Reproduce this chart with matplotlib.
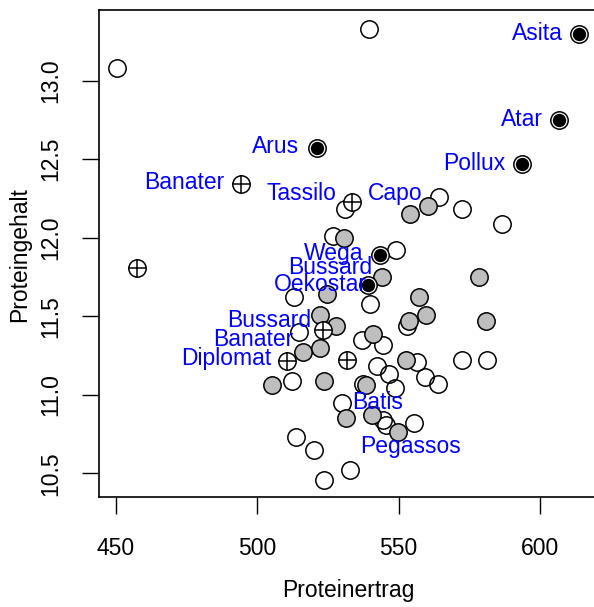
import matplotlib
matplotlib.use("Agg")
import matplotlib.pyplot as plt

plt.rcParams['font.family'] = ['Liberation Sans', 'DejaVu Sans']

# open circles
open_x = [450.5, 539.5, 531.0, 564.3, 572.3, 586.6, 526.9, 549.0, 539.8, 513.0,
          514.8, 536.9, 544.6, 552.8, 556.6, 572.3, 581.1, 542.2, 546.7, 559.3,
          563.9, 512.2, 537.5, 548.7, 530.1, 544.6, 545.5, 555.3, 513.8, 519.9,
          532.8, 523.6]
open_y = [13.08, 13.33, 12.18, 12.26, 12.18, 12.09, 12.01, 11.92, 11.58, 11.62,
          11.40, 11.35, 11.32, 11.44, 11.21, 11.22, 11.22, 11.18, 11.13, 11.11,
          11.07, 11.09, 11.07, 11.04, 10.95, 10.84, 10.81, 10.82, 10.73, 10.65,
          10.52, 10.46]

# grey filled circles
grey_x = [554.0, 560.5, 530.6, 544.0, 578.4, 524.5, 557.3, 559.7, 580.9, 522.2,
          527.8, 553.5, 540.8, 516.0, 522.1, 552.7, 505.3, 523.6, 538.5, 531.5,
          540.7, 549.7]
grey_y = [12.15, 12.20, 12.00, 11.75, 11.75, 11.64, 11.62, 11.51, 11.47, 11.51,
          11.44, 11.47, 11.39, 11.27, 11.30, 11.22, 11.06, 11.09, 11.06, 10.85,
          10.87, 10.76]

# black filled (Asita, Atar, Pollux, Arus, Wega, Oekostar)
black_x = [613.9, 606.8, 593.6, 521.0, 543.4, 539.2]
black_y = [13.30, 12.75, 12.47, 12.57, 11.89, 11.70]

# crossed circles
cross_x = [494.1, 533.4, 457.3, 523.3, 510.6, 531.6]
cross_y = [12.34, 12.23, 11.81, 11.415, 11.215, 11.22]

# labels: name, x, y, alignment
lab_names = ["Asita", "Atar", "Pollux", "Arus", "Banater", "Tassilo", "Capo",
             "Wega", "Bussard", "Oekostar", "Bussard", "Banater", "Diplomat",
             "Batis", "Pegassos"]
lab_x = [608.0, 600.9, 587.8, 514.8, 488.2, 527.8, 539.2,
         537.4, 540.8, 538.6, 519.2, 512.7, 505.1, 533.7, 536.3]
lab_y = [13.30, 12.75, 12.47, 12.58, 12.35, 12.28, 12.28,
         11.90, 11.81, 11.70, 11.47, 11.35, 11.23, 10.95, 10.67]
lab_ha = ["right", "right", "right", "right", "right", "right", "left",
          "right", "right", "right", "right", "right", "right", "left", "left"]

fig = plt.figure(figsize=(5.94, 6.07), dpi=100)
ax = fig.add_axes([99.3/594, 110/607, (594-99.3)/594, 487/607])

ms = 12.5
ax.plot(open_x, open_y, 'o', ms=ms, mfc='none', mec='black', mew=1.1, zorder=3)
ax.plot(grey_x, grey_y, 'o', ms=ms, mfc='#bebebe', mec='black', mew=1.1, zorder=3)
ax.plot(black_x, black_y, 'o', ms=ms, mfc='white', mec='black', mew=1.1, zorder=3)
ax.plot(black_x, black_y, 'o', ms=9.6, mfc='black', mec='black', mew=0, zorder=4)
ax.plot(cross_x, cross_y, 'o', ms=ms, mfc='white', mec='black', mew=1.1, zorder=3)
ax.plot(cross_x, cross_y, '+', ms=ms, mec='black', mew=1.1, zorder=4)

for name, x, y, ha in zip(lab_names, lab_x, lab_y, lab_ha):
    ax.text(x, y, name, color='#0000ff', fontsize=16.5, ha=ha, va='center', zorder=5)

ax.set_xlim(444.1, 619.1)
ax.set_ylim(10.349, 13.45)
ax.set_xticks([450, 500, 550, 600])
ax.set_yticks([10.5, 11.0, 11.5, 12.0, 12.5, 13.0])
ax.set_yticklabels(["10.5", "11.0", "11.5", "12.0", "12.5", "13.0"])
ax.tick_params(axis='both', length=12, width=1, labelsize=16.5)
ax.tick_params(axis='x', pad=17)
ax.tick_params(axis='y', pad=15)
for lab in ax.get_yticklabels():
    lab.set_rotation(90)
    lab.set_va('center')
ax.spines['right'].set_visible(False)
for s in ['left', 'top', 'bottom']:
    ax.spines[s].set_linewidth(1.2)

fig.text(348/594, 1 - 590/607, "Proteinertrag", fontsize=16.5, ha='center', va='center')
fig.text(20/594, 1 - 255/607, "Proteingehalt", fontsize=16.5, ha='center', va='center',
         rotation=90)

fig.savefig("out.png", dpi=100)
